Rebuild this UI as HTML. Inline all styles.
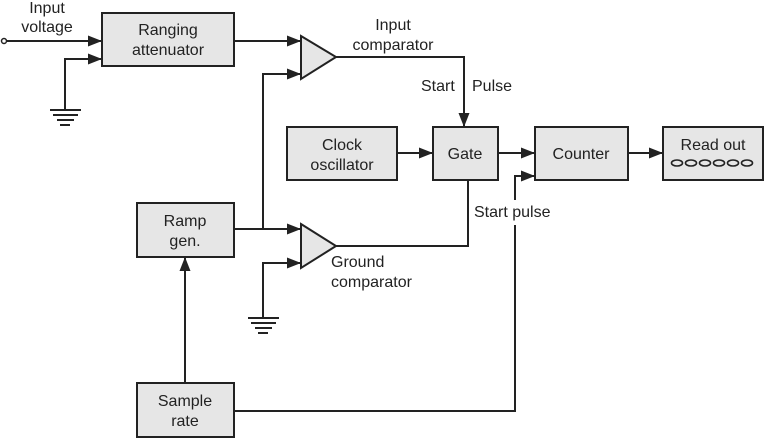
<!DOCTYPE html>
<html><head><style>
html,body{margin:0;padding:0;background:#fff}
svg{display:block}
text{font-family:"Liberation Sans",Arial,sans-serif;font-size:16px;fill:#222}
.b{fill:#e6e6e6;stroke:#222;stroke-width:2}
.l{fill:none;stroke:#222;stroke-width:2}
</style></head><body>
<svg width="765" height="438" viewBox="0 0 765 438" xmlns="http://www.w3.org/2000/svg">
<defs><marker id="a" markerWidth="14" markerHeight="11" refX="13" refY="5.5" orient="auto" markerUnits="userSpaceOnUse"><path d="M0,0 L14,5.5 L0,11 Z" fill="#222"/></marker></defs>
<rect class="b" x="102" y="13" width="132" height="53"/>
<rect class="b" x="137" y="203" width="97" height="54"/>
<rect class="b" x="137" y="383" width="97" height="54"/>
<rect class="b" x="287" y="127" width="110" height="53"/>
<rect class="b" x="433" y="127" width="65" height="53"/>
<rect class="b" x="535" y="127" width="93" height="53"/>
<rect class="b" x="663" y="127" width="100" height="53"/>
<polygon class="b" points="301,36 336,57 301,79"/>
<polygon class="b" points="301,224 336,246 301,268"/>
<circle cx="4" cy="41" r="2.5" fill="#fff" stroke="#222" stroke-width="1.5"/>
<path class="l" d="M7,41 H101" marker-end="url(#a)"/>
<path class="l" d="M65,110 V59 H101" marker-end="url(#a)"/>
<g stroke="#222" stroke-width="2"><line x1="50" y1="110" x2="81" y2="110"/><line x1="53" y1="115" x2="78" y2="115"/><line x1="57" y1="120" x2="74" y2="120"/><line x1="60" y1="125" x2="70" y2="125"/></g>
<path class="l" d="M234,41 H300" marker-end="url(#a)"/>
<path class="l" d="M263,229 V74 H300" marker-end="url(#a)"/>
<path class="l" d="M234,229 H300" marker-end="url(#a)"/>
<path class="l" d="M263,318 V263 H300" marker-end="url(#a)"/>
<g stroke="#222" stroke-width="2"><line x1="248" y1="318" x2="279" y2="318"/><line x1="251" y1="323" x2="276" y2="323"/><line x1="255" y1="328" x2="272" y2="328"/><line x1="258" y1="333" x2="268" y2="333"/></g>
<path class="l" d="M336,57 H464 V126" marker-end="url(#a)"/>
<path class="l" d="M336,246 H468 V181"/>
<path class="l" d="M397,153 H432" marker-end="url(#a)"/>
<path class="l" d="M498,153 H534" marker-end="url(#a)"/>
<path class="l" d="M628,153 H662" marker-end="url(#a)"/>
<path class="l" d="M515,200 V176 H534" marker-end="url(#a)"/>
<path class="l" d="M234,411 H515 V225"/>
<path class="l" d="M185,383 V258" marker-end="url(#a)"/>
<g fill="none" stroke="#222" stroke-width="1.6">
<ellipse cx="677" cy="163" rx="5.5" ry="3"/><ellipse cx="691" cy="163" rx="5.5" ry="3"/><ellipse cx="705" cy="163" rx="5.5" ry="3"/><ellipse cx="719" cy="163" rx="5.5" ry="3"/><ellipse cx="733" cy="163" rx="5.5" ry="3"/><ellipse cx="747" cy="163" rx="5.5" ry="3"/>
</g>
<text x="47" y="13" text-anchor="middle">Input</text>
<text x="47" y="32" text-anchor="middle">voltage</text>
<text x="168" y="35" text-anchor="middle">Ranging</text>
<text x="168" y="55" text-anchor="middle">attenuator</text>
<text x="393" y="30" text-anchor="middle">Input</text>
<text x="393" y="50" text-anchor="middle">comparator</text>
<text x="421" y="91">Start</text>
<text x="472" y="91">Pulse</text>
<text x="342" y="150" text-anchor="middle">Clock</text>
<text x="342" y="170" text-anchor="middle">oscillator</text>
<text x="465" y="159" text-anchor="middle">Gate</text>
<text x="581" y="159" text-anchor="middle">Counter</text>
<text x="713" y="150" text-anchor="middle">Read out</text>
<text x="474" y="217">Start pulse</text>
<text x="185" y="226" text-anchor="middle">Ramp</text>
<text x="185" y="246" text-anchor="middle">gen.</text>
<text x="331" y="267">Ground</text>
<text x="331" y="287">comparator</text>
<text x="185" y="406" text-anchor="middle">Sample</text>
<text x="185" y="426" text-anchor="middle">rate</text>
</svg>
</body></html>
